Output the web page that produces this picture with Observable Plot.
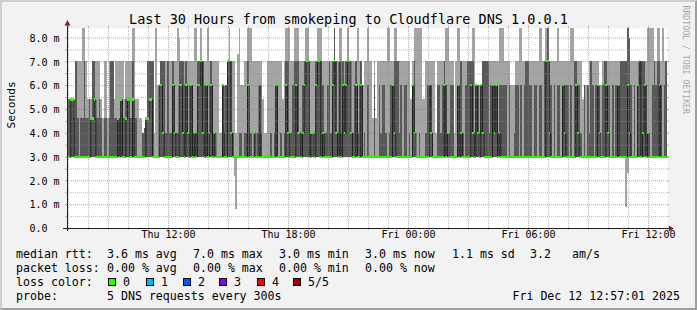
<!DOCTYPE html>
<html>
<head>
<meta charset="utf-8">
<script src="https://cdn.jsdelivr.net/npm/d3@7"></script>
<script src="https://cdn.jsdelivr.net/npm/@observablehq/plot@0.6"></script>
<style>
  html, body { margin: 0; padding: 0; background: #f2f2f2; }
  #wrap { position: relative; width: 697px; height: 310px; background: #f2f2f2; overflow: hidden;
          font-family: "DejaVu Sans Mono", monospace; color: #000; }
  #wrap > svg { position: absolute; left: 0; top: 0; }
  .t { position: absolute; white-space: pre; font-size: 11.6px; line-height: 14px; }
  #title { position: absolute; left: 0; top: 11px; width: 697px; text-align: center; font-size: 13.5px; line-height: 16px; white-space: pre; }
  .sq { position: absolute; width: 6px; height: 6px; border: 1px solid #000; top: 278px; }
  #bevel { position: absolute; left: 0; top: 0; width: 697px; height: 310px; box-sizing: border-box;
           border-style: solid; border-width: 2px; border-color: #cfcfcf #9e9e9e #9e9e9e #cfcfcf; pointer-events: none; }
</style>
</head>
<body>
<div id="wrap"></div>
<script>
// ---- chart texts ----
const titleText = "Last 30 Hours from smokeping to Cloudflare DNS 1.0.0.1";
const yAxisLabel = "Seconds";
const watermark = "RRDTOOL / TOBI OETIKER";
const yTickValues = [0, 1, 2, 3, 4, 5, 6, 7, 8];
const yTickLabels = ["0.0", "1.0 m", "2.0 m", "3.0 m", "4.0 m", "5.0 m", "6.0 m", "7.0 m", "8.0 m"];
const xTickTimes = ["2025-12-11T12:00:00Z", "2025-12-11T18:00:00Z", "2025-12-12T00:00:00Z", "2025-12-12T06:00:00Z", "2025-12-12T12:00:00Z"];
const xTickLabels = ["Thu 12:00", "Thu 18:00", "Fri 00:00", "Fri 06:00", "Fri 12:00"];
const graphStart = "2025-12-11T06:57:01Z";
const graphEnd = "2025-12-12T12:57:01Z";
const stepSeconds = 300;

const lossLabels = ["0", "1", "2", "3", "4", "5/5"];
const lossColors = ["#26ff00", "#00b8ff", "#0059ff", "#7e00ff", "#ff0000", "#a10000"];
const rttStats = ["3.6 ms avg", "7.0 ms max", "3.0 ms min", "3.0 ms now", "1.1 ms sd", "3.2", "am/s"];
const lossStats = ["0.00 % avg", "0.00 % max", "0.00 % min", "0.00 % now"];
const probeText = "5 DNS requests every 300s";
const stampText = "Fri Dec 12 12:57:01 2025";

// ---- per-step ping values in ms (sorted pings: lo <= q1 <= med <= q3 <= hi), 360 steps of 300 s ----
const lo = [
3,3,3,3,3,3,3,3,3,3, 3,3,3,3,3,3,3,3,3,3, 3,3,3,3,3,3,3,3,3,3,
3,3,3,3,3,3,3,3,3,3, 3,3,3,3,3,3,3,3,3,3, 3,3,3,3,3,3,3,3,3,3,
3,3,3,3,3,3,3,3,3,3, 3,3,3,3,3,3,3,3,3,3, 3,3,3,3,3,3,3,3,3,3,
3,3,3,3,3,3,3,3,3,3, 2.2,0.8,3,3,3,3,3,3,3,3, 3,3,3,3,3,3,3,3,3,3,
3,3,3,3,3,3,3,3,3,3, 3,3,3,3,3,3,3,3,3,3, 3,3,3,3,3,3,3,3,3,3,
3,3,3,3,3,3,3,3,3,3, 3,3,3,3,3,3,3,3,3,3, 3,3,3,3,3,3,3,3,3,3,
3,3,3,3,3,3,3,3,3,3, 3,3,3,3,3,3,3,3,3,3, 3,3,3,3,3,3,3,3,3,3,
3,3,3,3,3,3,3,3,3,3, 3,3,3,3,3,3,3,3,3,3, 3,3,3,3,3,3,3,3,3,3,
3,3,3,3,3,3,3,3,3,3, 3,3,3,3,3,3,3,3,3,3, 3,3,3,3,3,3,3,3,3,3,
3,3,3,3,3,3,3,3,3,3, 3,3,3,3,3,3,3,3,3,3, 3,3,3,3,3,3,3,3,3,3,
3,3,3,3,3,3,3,3,3,3, 3,3,3,3,3,3,3,3,3,3, 3,3,3,3,3,3,3,3,3,3,
3,3,3,3,3,0.9,2.3,3,3,3, 3,3,3,3,3,3,3,3,3,3, 3,3,3,3,3,3,3,3,3,3
];
const q1 = [
3,3,3,3,3,3,3,3,3,3, 3,3,3,3,3,3,3,3,3,3, 3,3,3,3,3,3,3,3,3,3,
3,3,3,3,3,3,3,3,3,3, 3,3,3,3,3,3,3,3,3,3, 3,3,3,3,3,3,3,3,3,3,
3,3,3,3,3,3,3,3,3,3, 3,3,3,3,3,3,3,3,3,3, 3,3,3,3,3,3,3,3,3,3,
3,3,3,3,3,3,3,3,3,3, 3,3,3,3,3,3,3,3,3,3, 3,3,3,3,3,3,3,3,3,3,
3,3,3,3,3,3,3,3,3,3, 3,3,3,3,3,3,3,3,3,3, 3,3,3,3,3,3,3,3,3,3,
3,3,3,3,3,3,3,3,3,3, 3,3,3,3,3,3,3,3,3,3, 3,3,3,3,3,3,3,3,3,3,
3,3,3,3,3,3,3,3,3,3, 3,3,3,3,3,3,3,3,3,3, 3,3,3,3,3,3,3,3,3,3,
3,3,3,3,3,3,3,3,3,3, 3,3,3,3,3,3,3,3,3,3, 3,3,3,3,3,3,3,3,3,3,
3,3,3,3,3,3,3,3,3,3, 3,3,3,3,3,3,3,3,3,3, 3,3,3,3,3,3,3,3,3,3,
3,3,3,3,3,3,3,3,3,3, 3,3,3,3,3,3,3,3,3,3, 3,3,3,3,3,3,3,3,3,3,
3,3,3,3,3,3,3,3,3,3, 3,3,3,3,3,3,3,3,3,3, 3,3,3,3,3,3,3,3,3,3,
3,3,3,3,3,3,3,3,3,3, 3,3,3,3,3,3,3,3,3,3, 3,3,3,3,3,3,3,3,3,3
];
const med = [
3,3,5.4,5.4,3,3,3,3,3,3, 3,3,3,3,4.6,4.6,5.4,3,3,3, 3,3,3,3,3,3,3,3,3,3,
4.6,3,5.4,3,3,4.6,5.4,3,3,5.4, 3,3,3,3,3,3,3,4.6,4.6,5.4, 5.4,3,3,3,3,6,6,4,3,3,
3,3,3,6,4,3,3,6,6,4, 3,6,4,3,6,3,4,3,6,6, 7,4,3,6,3,4,6,3,4,3,
3,3,3,6,3,3,7,7,4,3, 3,3,3,3,3,3,3,3,6,3, 3,3,4,3,3,6,3,3,3,3,
3,3,3,3,3,6,3,3,3,3, 3,6,4,3,3,3,3,6,4,4, 3,4,6,7,7,3,4,4,3,6,
7,7,3,4,3,3,3,3,3,6, 7,4,3,7,3,6,4,6,7,7, 4,3,3,6,3,3,6,3,3,3,
3,3,3,3,3,3,3,3,3,3, 3,3,3,3,3,6,4,3,3,3, 3,3,3,3,3,3,3,6,4,3,
3,3,3,3,3,3,3,6,4,3, 3,3,3,3,3,3,6,3,4,3, 3,3,3,3,6,3,4,3,3,3,
3,3,6,4,3,6,4,3,6,4, 3,3,3,3,3,6,4,6,3,4, 3,3,3,3,3,3,3,3,3,3,
3,3,3,3,3,3,3,3,3,3, 3,3,3,3,3,3,3,7,7,4, 3,3,3,3,3,3,3,6,4,3,
3,3,3,3,3,6,4,3,3,3, 3,3,3,3,3,3,3,3,6,4, 3,3,3,6,4,3,3,3,3,3,
6,3,3,3,3,3,6,4,3,3, 3,3,6,7,3,4,6,3,4,3, 3,3,3,3,3,6,3,3,3,3
];
const q3 = [
5.4,5.4,5.4,5.4,4.6,7,4.6,3,4.6,4.6, 7,4.6,4.6,5.4,4.6,7,7,4.6,4.6,5.4, 4.6,3,4.6,4.6,3,4.6,7,7,4.6,4.6,
4.6,4.6,5.4,4.6,4.6,5.4,5.4,4.6,4.6,7, 4.6,4.6,3,3,3,4,4.2,4.6,7,7, 7,7,3,3,3,6,7,7,7,4,
7,4,4,7,6,4,4,7,7,7, 6,7,4,6,6,4,4,4,7,7, 7,7,6,6,4,6,7,4,4,3,
3,3,3,6,4,6,7,7,7,4, 3,3,3,4,4,3,4,4,7,4, 4,3,4,3,4,6,4,3,3,3,
3,3,4,3,4,6,3,3,4,3, 4,7,7,4,4,6,7,7,7,4, 4,6,7,7,7,7,4,4,3,7,
7,7,7,6,4,4,6,7,4,7, 8.4,7,4,7,4,7,6,7,7,7, 4,4,6,7,4,6,7,3,4,3,
6,3,3,3,6,3,3,6,4,6, 6,4,3,4,6,6,7,7,7,4, 6,3,6,6,3,4,3,6,7,3,
3,4,3,3,3,4,6,6,6,3, 3,3,6,6,4,6,7,6,4,3, 6,6,3,3,6,6,7,4,3,6,
7,7,7,7,4,6,6,3,6,7, 7,7,7,4,6,6,6,6,4,6, 6,6,6,6,3,6,3,3,4,6,
6,3,6,3,6,7,7,6,6,3, 6,6,3,6,6,3,7,7,8.4,7, 6,3,6,3,6,6,3,6,6,6,
6,3,6,3,7,7,6,6,4,3, 6,3,6,4,7,6,3,6,6,4, 3,6,7,7,6,6,3,6,3,6,
6,6,7,7,7,7,8.4,8,6,3, 6,3,6,7,7,7,7,6,4,3, 3,6,7,6,7,7,6,3,6,7
];
const hi = [
5.4,5.4,5.4,5.4,5.4,7,7,7,7,8.4, 8.4,7,5.4,5.4,5.4,7,7,7,7,7, 5.4,4.6,7,7,4.6,7,7,7,5.4,7,
7,7,7,7,5.4,7,7,7,7,8.4, 8.4,5.4,5.4,4.6,4.6,4,4.2,4.6,7,7, 7,7,4,8.4,6,6,7,7,7,7,
7,7,7,7,7,7,8.4,8,7,7, 7,7,7,7,7,7,8.4,8.4,7,7, 8.4,7,7,7,8.4,7,7,7,7,7,
7,4,4,6,4,6,7,8.4,7,7, 7,4,7.3,8.4,6,6,7,7,8.4,8.4, 8.4,7,7,7,7,7,7,5.4,4,4,
7,7,7,7,7,7,7,7,7,5.4, 7,8.4,8.4,8.4,7,7,8.4,8.4,8.4,7, 7,7,7,8.4,8.4,7,7,7,7,7,
8.4,8.4,8.4,7,7,7,7,7,7,7, 8.4,7,7,8.4,8.4,7,7,7,8.4,7, 7,7,7,7,8.4,7,7,6,7,7,
8.4,7,7,4.6,7,4.6,7,7,7,7, 7,7,8.4,8.4,7,7,8.4,8.4,7,7, 7,7,7,7,7,7,5.4,7,8.4,8.4,
8.4,8.4,8.4,5.4,5.4,7,7,7,7,7, 7,4,7,7,7,7,7,8.4,8.4,7, 7,7,4,7,8.4,8.4,7,7,7,7,
7,7,7,8.4,8.4,6,6,6,6,7, 7,7,7,7,7,7,7,7,7,8.4, 8.4,8.4,7,7,7,7,6,6,6,7,
7,8.4,8.4,7,7,7,7,7,7,7, 7,7,7,8.4,8.4,7,7,8.4,8.4,7, 7,7,7,7,8.4,7,7,7,7,7,
7,7,8.4,8.4,7,7,7,7,7,5.4, 6,6,6,7,7,7,7,7,7,6, 6,7,7,7,7,7,7,7,7,7,
7,7,7,7,7,7,8.4,8,7,7, 7,7,7,7,7,7,7,7,8.4,8.4, 8.4,8.4,7,7,8.4,8.4,7,8.4,7,7
];

// ---- build tables ----
const xStart = new Date(graphStart);
const xEnd = new Date(graphEnd);
const stepMs = stepSeconds * 1000;
const rows = med.map((m, i) => ({
  t0: new Date(+xStart + i * stepMs),
  t1: new Date(+xStart + (i + 1) * stepMs),
  lo: lo[i], q1: q1[i], med: m, q3: q3[i], hi: hi[i]
}));
const medLine = rows.map(r => ({t: r.t0, v: r.med})).concat([{t: xEnd, v: med[med.length - 1]}]);

const hours = d3.utcHour.range(xStart, xEnd);
const majorX = hours.filter(d => d.getUTCHours() % 3 === 0);
const minorX = hours.filter(d => d.getUTCHours() % 3 !== 0);
const majorY = yTickValues.filter(v => v > 0);
const minorY = yTickValues.map(v => v + 0.5).filter(v => v < 8.4);
const xTicks = xTickTimes.map(s => new Date(s));
const min = m => m * 60000;

const GRID = "#8f8f8f", MGRID = "#de4f4f", AXIS = "#1f1f1f", ARROW = "#801f1f";
const dash = "1,1";
const gOp = 0.6, mOp = 0.6;

const chart = Plot.plot({
  width: 697, height: 250,
  marginLeft: 67, marginRight: 30, marginTop: 28, marginBottom: 22,
  style: {background: "transparent", overflow: "visible", fontFamily: "DejaVu Sans Mono, monospace", color: "#000"},
  x: {type: "utc", domain: [xStart, xEnd], axis: null},
  y: {domain: [0, 8.4], axis: null},
  marks: [
    Plot.frame({fill: "#ffffff", stroke: "none"}),
    // smoke
    Plot.rect(rows, {x1: "t0", x2: "t1", y1: "lo", y2: "hi", fill: "#a4a4a4", shapeRendering: "crispEdges"}),
    Plot.rect(rows, {x1: "t0", x2: "t1", y1: "q1", y2: "q3", fill: "#585858", shapeRendering: "crispEdges"}),
    // median line
    Plot.line(medLine, {x: "t", y: "v", curve: "step-after", stroke: "#202020", strokeWidth: 1}),
    // loss-coloured median marks (0 loss)
    Plot.rect(rows, {x1: "t0", x2: "t1", y1: d => d.med - 0.045, y2: d => d.med + 0.045, fill: lossColors[0], shapeRendering: "crispEdges"}),
    // minor grid
    Plot.ruleY(minorY, {x1: xStart, x2: xEnd, stroke: GRID, strokeOpacity: gOp, strokeDasharray: dash}),
    Plot.ruleX(minorX, {y1: 0, y2: 8.4, stroke: GRID, strokeOpacity: gOp, strokeDasharray: dash}),
    Plot.ruleY(minorY, {x1: new Date(+xStart - min(6)), x2: xStart, stroke: GRID, strokeOpacity: gOp}),
    Plot.ruleY(minorY, {x1: xEnd, x2: new Date(+xEnd + min(6)), stroke: GRID, strokeOpacity: gOp}),
    Plot.ruleX(minorX, {y1: -0.085, y2: 0, stroke: GRID, strokeOpacity: gOp}),
    Plot.ruleX(minorX, {y1: 8.4, y2: 8.485, stroke: GRID, strokeOpacity: gOp}),
    // major grid
    Plot.ruleY(majorY, {x1: xStart, x2: xEnd, stroke: MGRID, strokeOpacity: mOp, strokeDasharray: dash}),
    Plot.ruleX(majorX, {y1: 0, y2: 8.4, stroke: MGRID, strokeOpacity: mOp, strokeDasharray: dash}),
    Plot.ruleY(majorY, {x1: new Date(+xStart - min(6)), x2: xStart, stroke: MGRID, strokeOpacity: mOp}),
    Plot.ruleY(majorY, {x1: xEnd, x2: new Date(+xEnd + min(6)), stroke: MGRID, strokeOpacity: mOp}),
    Plot.ruleX(majorX, {y1: -0.085, y2: 0, stroke: MGRID, strokeOpacity: mOp}),
    Plot.ruleX(majorX, {y1: 8.4, y2: 8.485, stroke: MGRID, strokeOpacity: mOp}),
    // axes
    Plot.ruleY([0], {x1: new Date(+xStart - min(12)), x2: new Date(+xEnd + min(12)), stroke: AXIS}),
    Plot.ruleX([xStart], {y1: -0.13, y2: 8.7, stroke: AXIS}),
    Plot.dot([0], {x: new Date(+xEnd + min(9)), y: 0, symbol: "triangle", rotate: 90, r: 2.2, fill: ARROW, stroke: "none"}),
    Plot.dot([0], {x: xStart, y: 8.6, symbol: "triangle", r: 2.2, fill: ARROW, stroke: "none"}),
    // tick labels
    Plot.text(yTickValues, {y: d => d, text: (d, i) => yTickLabels[i], frameAnchor: "left", dx: -38, dy: 0.5, textAnchor: "start", fontSize: 10, fill: "#000"}),
    Plot.text(xTicks, {x: d => d, text: (d, i) => xTickLabels[i], frameAnchor: "bottom", dy: 9.5, textAnchor: "middle", fontSize: 10, fill: "#000"}),
    Plot.text([yAxisLabel], {frameAnchor: "left", dx: -56.5, rotate: -90, fontSize: 11.2, fill: "#000"}),
    Plot.text([watermark], {frameAnchor: "top-right", dx: 21, dy: -23, rotate: 90, textAnchor: "start", fontSize: 8.2, fill: "#a8a8a8"})
  ]
});

const wrap = document.getElementById("wrap");
wrap.appendChild(chart);

function addText(txt, left, top, extra) {
  const d = document.createElement("div");
  d.className = "t";
  d.textContent = txt;
  d.style.left = left + "px";
  d.style.top = top + "px";
  if (extra) Object.assign(d.style, extra);
  wrap.appendChild(d);
}
const title = document.createElement("div");
title.id = "title";
title.textContent = titleText;
wrap.appendChild(title);

// legend rows
const rowTop = [247, 261, 275, 289];
const statX = [107, 193, 279, 365, 452, 530, 572];
addText("median rtt:", 16, rowTop[0]);
rttStats.forEach((s, i) => addText(s, statX[i], rowTop[0]));
addText("packet loss:", 16, rowTop[1]);
lossStats.forEach((s, i) => addText(s, statX[i], rowTop[1]));
addText("loss color:", 16, rowTop[2]);
const sqX = [108, 146, 183, 219, 257, 293];
lossLabels.forEach((l, i) => {
  const s = document.createElement("div");
  s.className = "sq";
  s.style.left = sqX[i] + "px";
  s.style.background = lossColors[i];
  wrap.appendChild(s);
  addText(l, sqX[i] + 15, rowTop[2]);
});
addText("probe:", 16, rowTop[3]);
addText(probeText, 107, rowTop[3]);
addText(stampText, 0, rowTop[3], {left: "auto", right: "17px"});

const bevel = document.createElement("div");
bevel.id = "bevel";
wrap.appendChild(bevel);
</script>
</body>
</html>
